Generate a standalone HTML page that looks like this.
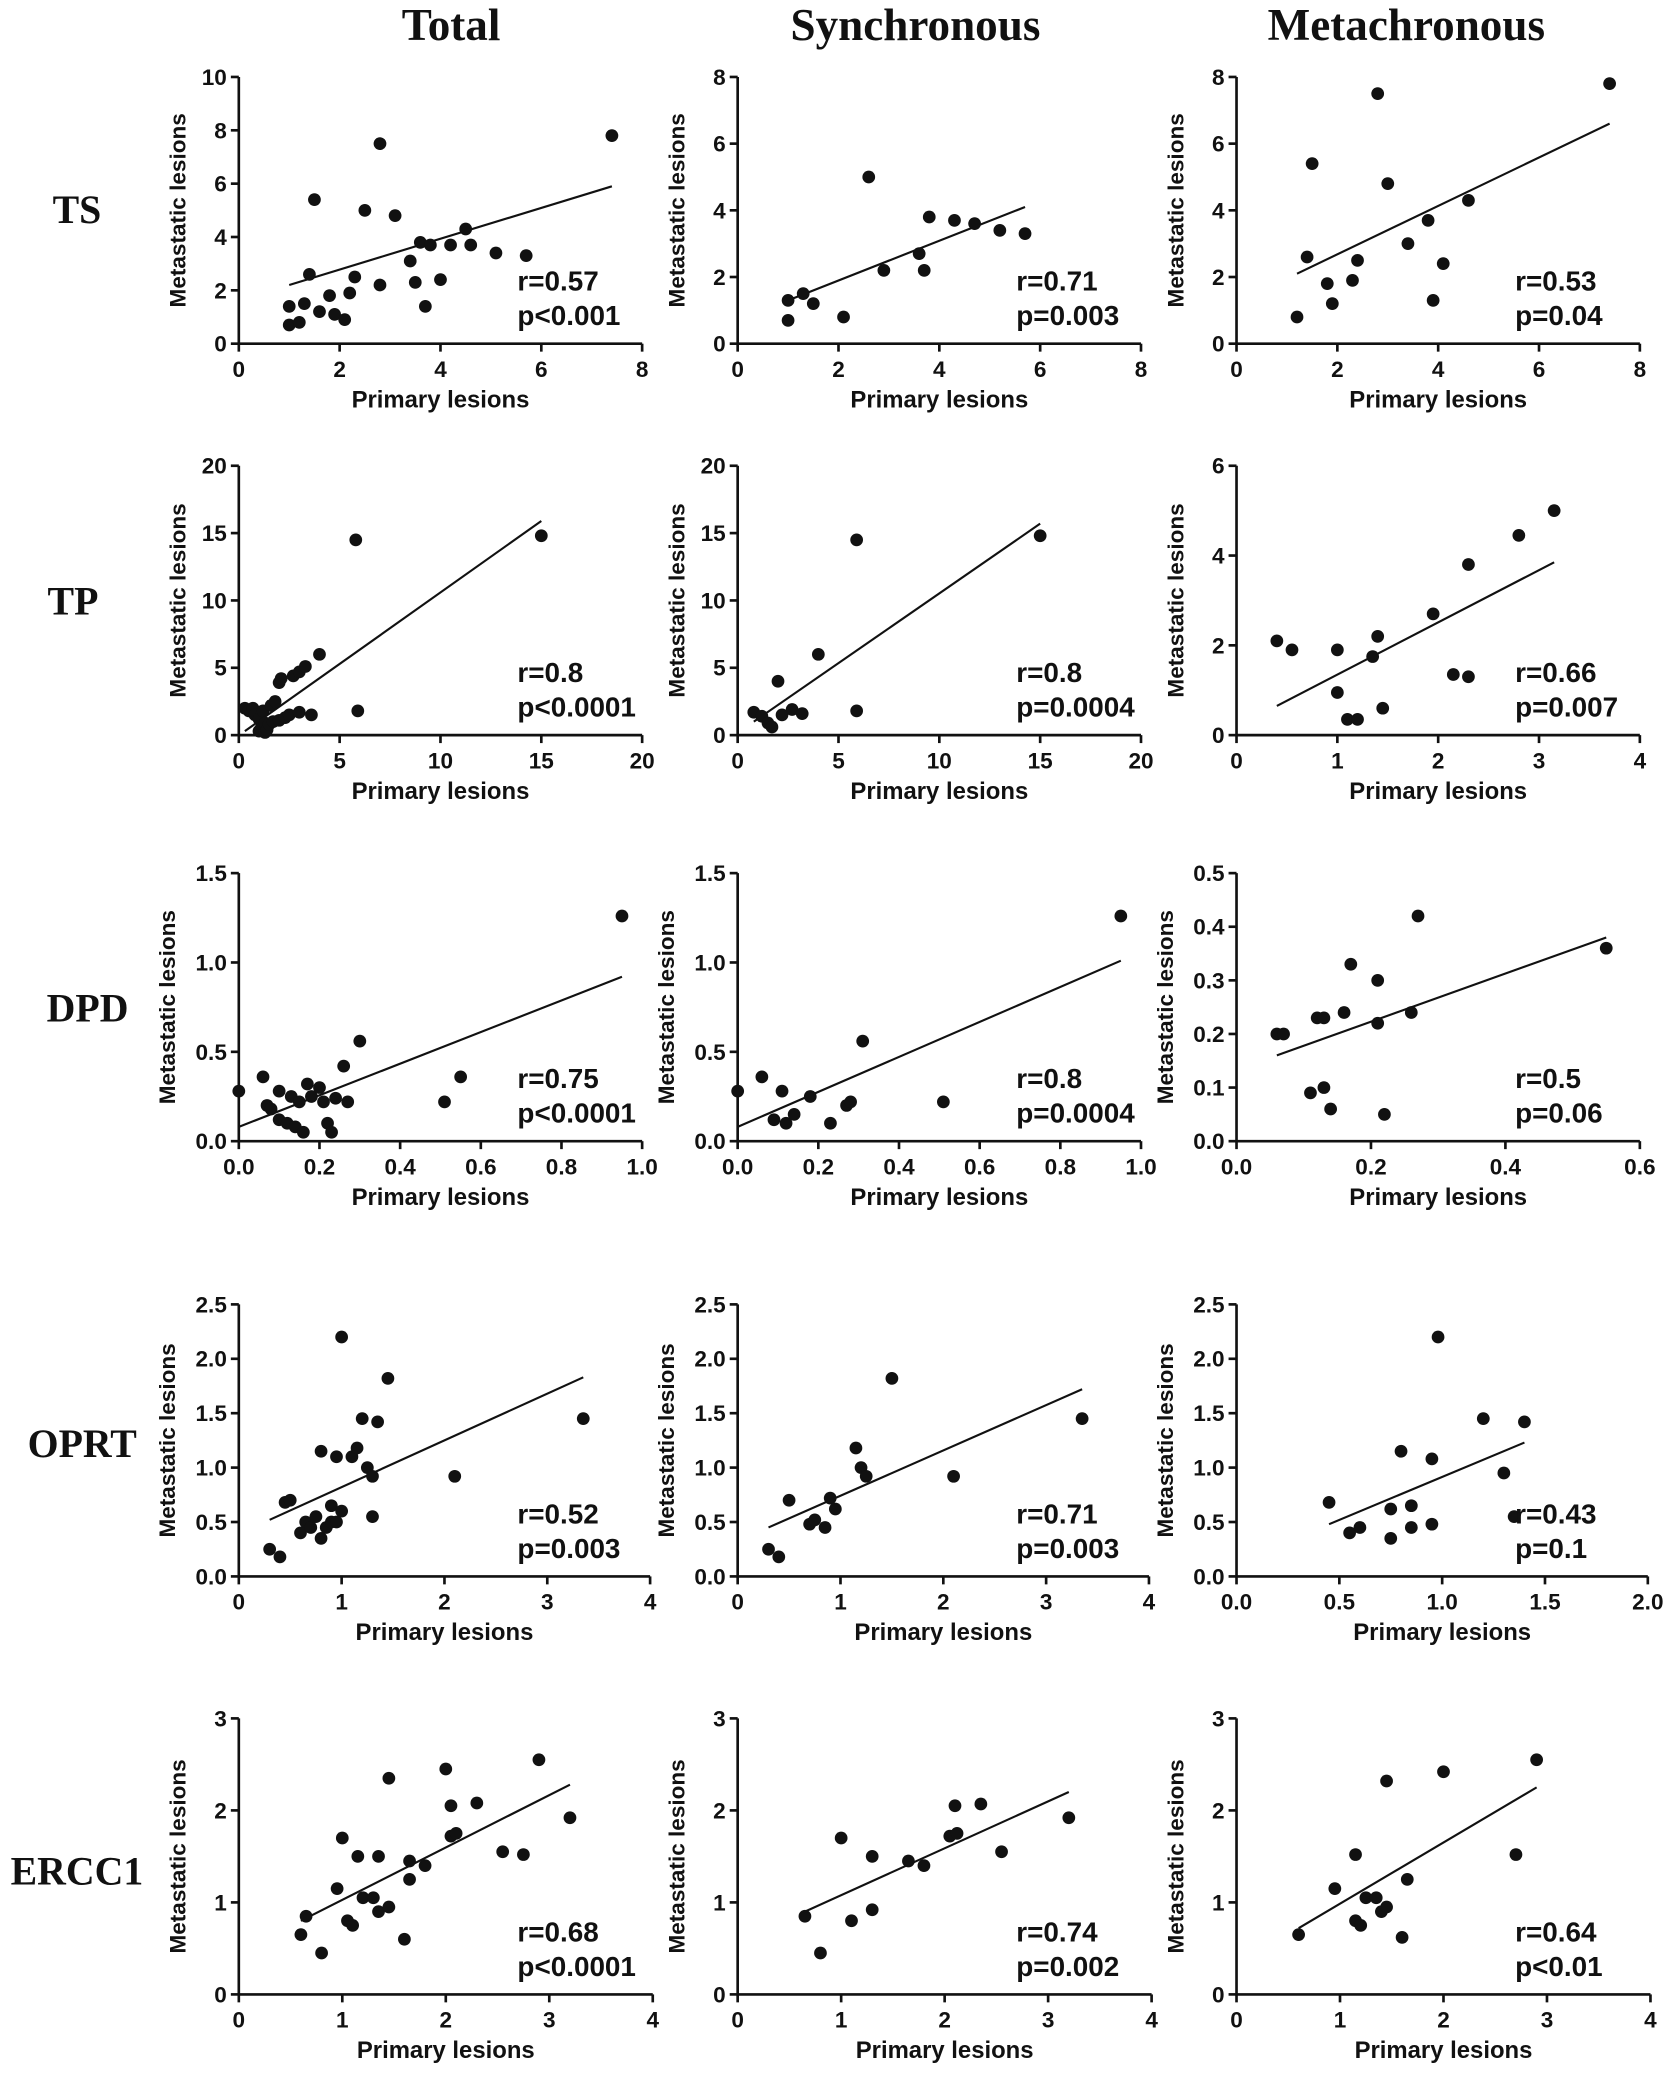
<!DOCTYPE html>
<html><head><meta charset="utf-8"><style>
html,body{margin:0;padding:0;background:#fff;}
svg{display:block;}
text{font-family:"Liberation Sans",Arial,sans-serif;font-weight:bold;fill:#111;}
.serif{font-family:"Liberation Serif","Times New Roman",serif;}
</style></head><body>
<svg id="fig" width="1677" height="2078" viewBox="0 0 1264 1566" preserveAspectRatio="none" xmlns="http://www.w3.org/2000/svg">
<rect width="1264" height="1566" fill="#fff"/>
<text class="serif" x="340" y="30" font-size="34" text-anchor="middle">Total</text>
<text class="serif" x="690" y="30" font-size="34" text-anchor="middle">Synchronous</text>
<text class="serif" x="1060" y="30" font-size="34" text-anchor="middle">Metachronous</text>
<text class="serif" x="58" y="168" font-size="30" text-anchor="middle">TS</text>
<text class="serif" x="55" y="463" font-size="30" text-anchor="middle">TP</text>
<text class="serif" x="66" y="770" font-size="30" text-anchor="middle">DPD</text>
<text class="serif" x="62" y="1098" font-size="30" text-anchor="middle">OPRT</text>
<text class="serif" x="58" y="1420" font-size="30" text-anchor="middle">ERCC1</text>
</svg>
<script>
// ---- data ----
const tsTotalX=[1,1,1.2,1.3,1.4,1.5,1.6,1.8,1.9,2.1,2.2,2.3,2.5,2.8,2.8,3.1,3.4,3.5,3.6,3.7,3.8,4,4.2,4.5,4.6,5.1,5.7,7.4];
const tsTotalY=[1.4,0.7,0.8,1.5,2.6,5.4,1.2,1.8,1.1,0.9,1.9,2.5,5,7.5,2.2,4.8,3.1,2.3,3.8,1.4,3.7,2.4,3.7,4.3,3.7,3.4,3.3,7.8];
const tsTotalFit=[1,2.2,7.4,5.9];
const tsSynX=[1,1,1.3,1.5,2.1,2.6,2.9,3.6,3.7,3.8,4.3,4.7,5.2,5.7];
const tsSynY=[1.3,0.7,1.5,1.2,0.8,5,2.2,2.7,2.2,3.8,3.7,3.6,3.4,3.3];
const tsSynFit=[1,1.3,5.7,4.1];
const tsMetX=[1.2,1.4,1.5,1.8,1.9,2.3,2.4,2.8,3,3.4,3.8,3.9,4.1,4.6,7.4];
const tsMetY=[0.8,2.6,5.4,1.8,1.2,1.9,2.5,7.5,4.8,3,3.7,1.3,2.4,4.3,7.8];
const tsMetFit=[1.2,2.1,7.4,6.6];
const tpTotalX=[0.3,0.5,0.7,0.8,1,1,1.1,1.2,1.3,1.3,1.4,1.5,1.6,1.7,1.8,2,2,2.1,2.3,2.5,2.7,3,3,3.3,3.6,4,5.9,5.8,15];
const tpTotalY=[2,1.8,2,1.5,1.2,0.3,0.5,1.8,0.2,0.9,0.4,0.8,2.2,1.0,2.5,3.9,1.1,4.2,1.3,1.5,4.4,4.7,1.7,5.1,1.5,6.0,1.8,14.5,14.8];
const tpTotalFit=[0.3,0.3,15,15.9];
const tpSynX=[0.8,1.2,1.5,1.7,2,2.2,2.7,3.2,4,5.9,5.9,15];
const tpSynY=[1.7,1.4,0.9,0.6,4,1.5,1.9,1.6,6,1.8,14.5,14.8];
const tpSynFit=[0.8,1,15,15.7];
const tpMetX=[0.4,0.55,1,1.0,1.1,1.2,1.4,1.35,1.45,1.95,2.15,2.3,2.3,2.8,3.15];
const tpMetY=[2.1,1.9,1.9,0.95,0.35,0.35,2.2,1.75,0.6,2.7,1.35,1.3,3.8,4.45,5.0];
const tpMetFit=[0.4,0.65,3.15,3.85];
const dpdTotalX=[0,0.06,0.07,0.08,0.1,0.1,0.12,0.13,0.14,0.15,0.16,0.17,0.18,0.2,0.21,0.22,0.23,0.24,0.26,0.27,0.3,0.51,0.55,0.95];
const dpdTotalY=[0.28,0.36,0.2,0.18,0.28,0.12,0.1,0.25,0.08,0.22,0.05,0.32,0.25,0.3,0.22,0.1,0.05,0.24,0.42,0.22,0.56,0.22,0.36,1.26];
const dpdTotalFit=[0,0.08,0.95,0.92];
const dpdSynX=[0,0.06,0.09,0.11,0.12,0.14,0.18,0.23,0.27,0.28,0.31,0.51,0.95];
const dpdSynY=[0.28,0.36,0.12,0.28,0.1,0.15,0.25,0.1,0.2,0.22,0.56,0.22,1.26];
const dpdSynFit=[0,0.08,0.95,1.01];
const dpdMetX=[0.06,0.07,0.11,0.12,0.13,0.13,0.14,0.16,0.17,0.21,0.21,0.22,0.26,0.27,0.55];
const dpdMetY=[0.2,0.2,0.09,0.23,0.23,0.1,0.06,0.24,0.33,0.3,0.22,0.05,0.24,0.42,0.36];
const dpdMetFit=[0.06,0.16,0.55,0.38];
const oprtTotalX=[0.3,0.4,0.45,0.5,0.6,0.65,0.7,0.75,0.8,0.8,0.85,0.9,0.9,0.95,0.95,1,1,1.1,1.15,1.2,1.25,1.3,1.3,1.35,1.45,2.1,3.35];
const oprtTotalY=[0.25,0.18,0.68,0.7,0.4,0.5,0.45,0.55,0.35,1.15,0.45,0.65,0.5,1.1,0.5,2.2,0.6,1.1,1.18,1.45,1.0,0.92,0.55,1.42,1.82,0.92,1.45];
const oprtTotalFit=[0.3,0.52,3.35,1.83];
const oprtSynX=[0.3,0.4,0.5,0.7,0.75,0.85,0.9,0.95,1.15,1.2,1.25,1.5,2.1,3.35];
const oprtSynY=[0.25,0.18,0.7,0.48,0.52,0.45,0.72,0.62,1.18,1.0,0.92,1.82,0.92,1.45];
const oprtSynFit=[0.3,0.45,3.35,1.72];
const oprtMetX=[0.45,0.55,0.6,0.75,0.75,0.8,0.85,0.85,0.95,0.95,0.98,1.2,1.3,1.35,1.4];
const oprtMetY=[0.68,0.4,0.45,0.62,0.35,1.15,0.45,0.65,1.08,0.48,2.2,1.45,0.95,0.55,1.42];
const oprtMetFit=[0.45,0.48,1.4,1.23];
const erccTotalX=[0.6,0.65,0.8,0.95,1,1.05,1.1,1.15,1.2,1.3,1.35,1.35,1.45,1.45,1.6,1.65,1.65,1.8,2,2.05,2.05,2.1,2.3,2.55,2.75,2.9,3.2];
const erccTotalY=[0.65,0.85,0.45,1.15,1.7,0.8,0.75,1.5,1.05,1.05,1.5,0.9,0.95,2.35,0.6,1.25,1.45,1.4,2.45,1.72,2.05,1.75,2.08,1.55,1.52,2.55,1.92];
const erccTotalFit=[0.6,0.8,3.2,2.28];
const erccSynX=[0.65,0.8,1,1.1,1.3,1.3,1.65,1.8,2.05,2.1,2.12,2.35,2.55,3.2];
const erccSynY=[0.85,0.45,1.7,0.8,1.5,0.92,1.45,1.4,1.72,2.05,1.75,2.07,1.55,1.92];
const erccSynFit=[0.65,0.9,3.2,2.2];
const erccMetX=[0.6,0.95,1.15,1.15,1.2,1.25,1.35,1.4,1.45,1.45,1.6,1.65,2,2.7,2.9];
const erccMetY=[0.65,1.15,1.52,0.8,0.75,1.05,1.05,0.9,0.95,2.32,0.62,1.25,2.42,1.52,2.55];
const erccMetFit=[0.6,0.72,2.9,2.25];
const statR=["r=0.57","r=0.71","r=0.53","r=0.8","r=0.8","r=0.66","r=0.75","r=0.8","r=0.5","r=0.52","r=0.71","r=0.43","r=0.68","r=0.74","r=0.64"];
const statP=["p<0.001","p=0.003","p=0.04","p<0.0001","p=0.0004","p=0.007","p<0.0001","p=0.0004","p=0.06","p=0.003","p=0.003","p=0.1","p<0.0001","p=0.002","p<0.01"];
const xTicks08=["0","2","4","6","8"], yTicks010=["0","2","4","6","8","10"], yTicks08=["0","2","4","6","8"];
const ticks020=["0","5","10","15","20"], ticks06=["0","2","4","6"], ticks04=["0","1","2","3","4"];
const ticks01=["0.0","0.2","0.4","0.6","0.8","1.0"], ticks015=["0.0","0.5","1.0","1.5"];
const ticks005=["0.0","0.1","0.2","0.3","0.4","0.5"], ticks006=["0.0","0.2","0.4","0.6"];
const ticks025=["0.0","0.5","1.0","1.5","2.0","2.5"], ticks02=["0.0","0.5","1.0","1.5","2.0"], ticks03=["0","1","2","3"];

const NS="http://www.w3.org/2000/svg";
const svg=document.getElementById('fig');
function mk(tag,attrs,parent){const e=document.createElementNS(NS,tag);for(const k in attrs)e.setAttribute(k,attrs[k]);(parent||svg).appendChild(e);return e;}
const cols=[180,556,932];
const rows=[[259,58,304],[554,351,304],[860,658,304],[1188,983,310],[1503,1295,312]];
const panels=[
 [tsTotalX,tsTotalY,tsTotalFit,xTicks08,yTicks010],[tsSynX,tsSynY,tsSynFit,xTicks08,yTicks08],[tsMetX,tsMetY,tsMetFit,xTicks08,yTicks08],
 [tpTotalX,tpTotalY,tpTotalFit,ticks020,ticks020],[tpSynX,tpSynY,tpSynFit,ticks020,ticks020],[tpMetX,tpMetY,tpMetFit,ticks04,ticks06],
 [dpdTotalX,dpdTotalY,dpdTotalFit,ticks01,ticks015],[dpdSynX,dpdSynY,dpdSynFit,ticks01,ticks015],[dpdMetX,dpdMetY,dpdMetFit,ticks006,ticks005],
 [oprtTotalX,oprtTotalY,oprtTotalFit,ticks04,ticks025],[oprtSynX,oprtSynY,oprtSynFit,ticks04,ticks025],[oprtMetX,oprtMetY,oprtMetFit,ticks02,ticks025],
 [erccTotalX,erccTotalY,erccTotalFit,ticks04,ticks03],[erccSynX,erccSynY,erccSynFit,ticks04,ticks03],[erccMetX,erccMetY,erccMetFit,ticks04,ticks03]
];
panels.forEach((p,i)=>{
 const [xs,ys,fit,xt,yt]=p;
 const r=Math.floor(i/3),c=i%3;
 const x0=cols[c],[y0,y1,w]=rows[r],x1=x0+w;
 const xmax=parseFloat(xt[xt.length-1]),ymax=parseFloat(yt[yt.length-1]);
 const sx=v=>x0+v/xmax*(x1-x0), sy=v=>y0-v/ymax*(y0-y1);
 const g=mk('g',{});
 
 
 const ax=mk('path',{d:`M${x0},${y1}V${y0}H${x1}`,stroke:'#111','stroke-width':2,fill:'none'},g);
 
 
 xt.forEach((t,k)=>{const x=sx(parseFloat(t));
  mk('line',{x1:x,x2:x,y1:y0,y2:y0+6,stroke:'#111','stroke-width':2},g);
  const tx=mk('text',{x:x,y:y0+25,'font-size':17,'text-anchor':'middle'},g);tx.textContent=t;
  
  });
 yt.forEach((t,k)=>{const y=sy(parseFloat(t));
  mk('line',{x1:x0-6,x2:x0,y1:y,y2:y,stroke:'#111','stroke-width':2},g);
  const tx=mk('text',{x:x0-9,y:y+6,'font-size':17,'text-anchor':'end'},g);tx.textContent=t;
  
  });
 const xl=mk('text',{x:(x0+x1)/2,y:y0+48,'font-size':18,'text-anchor':'middle'},g);xl.textContent='Primary lesions';
 
 
 const ym=(y0+y1)/2,yx=x0-(yt[yt.length-1].length>2?48:40);
 const yl=mk('text',{x:yx,y:ym,'font-size':17,'text-anchor':'middle',transform:`rotate(-90 ${yx} ${ym})`},g);yl.textContent='Metastatic lesions';
 
 
 const ln=mk('line',{x1:sx(fit[0]),y1:sy(fit[1]),x2:sx(fit[2]),y2:sy(fit[3]),stroke:'#111','stroke-width':1.6},g);
 
 
 xs.forEach((v,k)=>{const pt=mk('circle',{cx:sx(v),cy:sy(ys[k]),r:4.8,fill:'#111'},g);
  
  });
 const rt=mk('text',{x:x0+210,y:y0-40,'font-size':21},g);rt.textContent=statR[i];
 
 
 const pt2=mk('text',{x:x0+210,y:y0-14,'font-size':21},g);pt2.textContent=statP[i];
 
 
});
</script>
</body></html>
